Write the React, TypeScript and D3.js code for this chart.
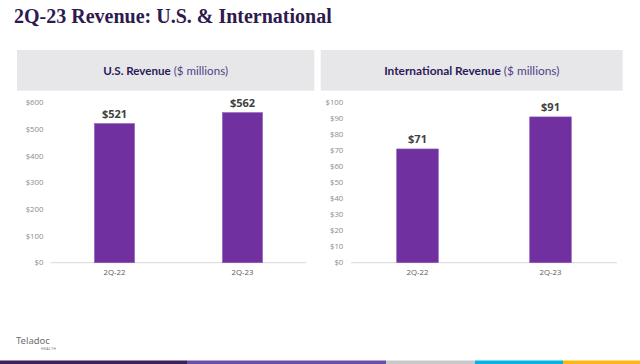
import React, { useEffect } from "react";
import * as d3 from "d3";

const categories = ["2Q-22", "2Q-23"];
const usValues = [521, 562];
const intlValues = [71, 91];
const usTicks = [0, 100, 200, 300, 400, 500, 600];
const intlTicks = [0, 10, 20, 30, 40, 50, 60, 70, 80, 90, 100];
const footerColors = ["#3b1f5e", "#6a4fa8", "#c9c9c9", "#00b5e2", "#fdb913"];
const footerStops = [0, 187, 386, 475, 563, 640];

type PanelProps = {
  x0: number; x1: number; labelRight: number; values: number[]; ticks: number[]; max: number;
};

function Panel({ x0, x1, labelRight, values, ticks, max }: PanelProps) {
  const y = d3.scaleLinear().domain([0, max]).range([262.7, 102.5]);
  const x = d3.scaleBand<string>().domain(categories).range([x0, x1]).paddingInner(0.6875).paddingOuter(0.34375);
  return (
    <g>
      {ticks.map((t) => (
        <text key={t} x={labelRight} y={y(t)} dy="0.35em" textAnchor="end" fontSize={7.8}
          fontFamily="'Open Sans', sans-serif" fill="#8c8c8c">{"$" + t}</text>
      ))}
      <line x1={x0} x2={x1} y1={y(0)} y2={y(0)} stroke="#d9d9d9" strokeWidth={1} />
      {values.map((v, i) => {
        const c = categories[i];
        const bx = x(c) as number;
        return (
          <g key={c}>
            <rect x={bx} y={y(v)} width={x.bandwidth()} height={y(0) - y(v)} fill="#7030a0" stroke="#8a55b5" strokeWidth={0.6} />
            <text x={bx + x.bandwidth() / 2} y={y(v) - 6} textAnchor="middle" fontSize={11} fontWeight="bold"
              fontFamily="'Open Sans', sans-serif" fill="#404040">{"$" + v}</text>
            <text x={bx + x.bandwidth() / 2} y={275.3} textAnchor="middle" fontSize={7.8}
              fontFamily="'Open Sans', sans-serif" fill="#595959">{c}</text>
          </g>
        );
      })}
    </g>
  );
}

export default function App() {
  useEffect(() => {
    document.body.style.margin = "0";
  }, []);
  return (
    <svg width={640} height={364} style={{ position: "absolute", left: 0, top: 0, display: "block", background: "#fff" }}>
      <text x={14} y={23} fontSize={20} fontWeight="bold" fontFamily="'Liberation Serif', 'DejaVu Serif', serif" fill="#2e1a4f">
        2Q-23 Revenue: U.S. &amp; International
      </text>
      <rect x={17} y={50} width={297.3} height={40.7} fill="#e7e7ea" />
      <rect x={320.7} y={50} width={302} height={40.7} fill="#e7e7ea" />
      <text x={165.6} y={74.5} textAnchor="middle" fontSize={11.6} fontFamily="Lato, sans-serif" fill="#2b1a5a">
        <tspan fontWeight="bold">U.S. Revenue</tspan>
        <tspan fill="#4f3f86"> ($ millions)</tspan>
      </text>
      <text x={471.8} y={74.5} textAnchor="middle" fontSize={11.9} fontFamily="Lato, sans-serif" fill="#2b1a5a">
        <tspan fontWeight="bold">International Revenue</tspan>
        <tspan fill="#4f3f86"> ($ millions)</tspan>
      </text>
      <Panel x0={50.5} x1={306.5} labelRight={43.5} values={usValues} ticks={usTicks} max={600} />
      <Panel x0={351} x1={617} labelRight={343.3} values={intlValues} ticks={intlTicks} max={100} />
      <text x={16} y={344} fontSize={9.5} fontFamily="'Noto Sans', sans-serif" fill="#6e6e6e">Teladoc</text>
      <text x={41} y={350} fontSize={3.6} fontFamily="'Noto Sans', sans-serif" fill="#7a7a7a" letterSpacing={0.3}>HEALTH</text>
      {footerColors.map((c, i) => (
        <rect key={c} x={footerStops[i]} y={360.5} width={footerStops[i + 1] - footerStops[i]} height={3.5} fill={c} />
      ))}
    </svg>
  );
}
